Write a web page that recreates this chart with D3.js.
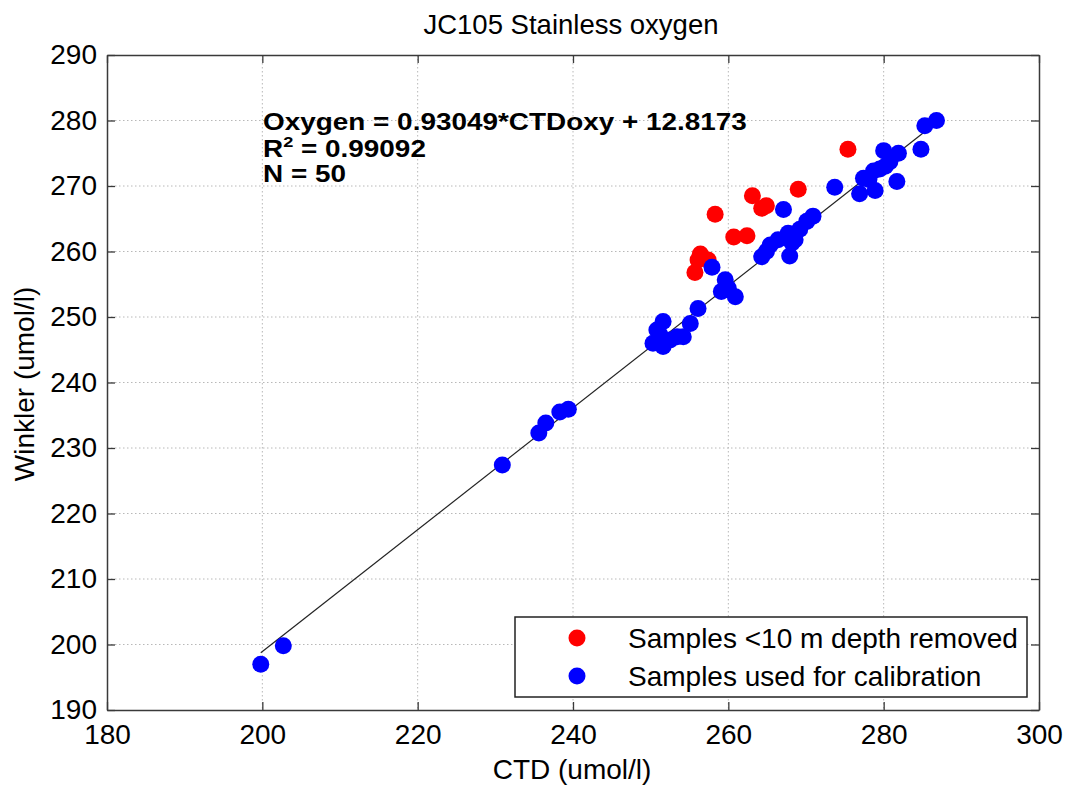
<!DOCTYPE html>
<html><head><meta charset="utf-8">
<script src="https://cdn.jsdelivr.net/npm/d3@7"></script>
<style>
body{margin:0;background:#fff}
text{font-family:"Liberation Sans",Arial,Helvetica,sans-serif;fill:#000}
</style>
</head><body>
<svg id="c" width="1067" height="785"></svg>
<script>
// ---------- data ----------
const titleText = "JC105 Stainless oxygen";
const xLabel = "CTD (umol/l)";
const yLabel = "Winkler (umol/l)";
const xTicks = [180, 200, 220, 240, 260, 280, 300];
const yTicks = [190, 200, 210, 220, 230, 240, 250, 260, 270, 280, 290];

const blueX = [199.8, 202.7, 230.9, 235.6, 236.5, 238.3, 239.4,
  250.8, 250.3, 251.6, 251.6, 253.4, 252.5, 255.1, 256.1, 251.2, 254.2,
  257.9, 259.1, 259.6, 260.9, 260.0,
  264.9, 265.4, 266.4, 267.7, 268.2, 267.9, 269.2, 270.1, 267.1, 273.7, 270.9, 268.6, 264.3,
  276.9, 278.9, 277.4, 278.7, 280.2, 280.8, 280.0, 281.9, 281.7, 284.8, 285.3, 286.8, 278.1, 279.5];
const blueY = [197.0, 199.8, 227.4, 232.3, 233.8, 235.5, 235.9,
  248.0, 246.0, 249.3, 245.5, 247.0, 246.5, 249.0, 251.3, 247.3, 247.0,
  257.6, 253.9, 255.7, 253.1, 254.4,
  260.0, 261.0, 261.8, 262.8, 261.3, 259.3, 263.4, 264.6, 266.4, 269.8, 265.4, 261.8, 259.2,
  268.8, 269.3, 271.2, 272.3, 273.0, 273.7, 275.4, 275.0, 270.7, 275.6, 279.2, 280.0, 271.0, 272.6];

const redX = [275.4, 269.0, 263.1, 264.3, 264.9, 258.3, 260.7, 262.4, 256.4, 257.4, 255.7, 256.1];
const redY = [275.6, 269.5, 268.5, 266.6, 267.0, 265.7, 262.2, 262.4, 259.6, 258.7, 256.8, 258.7];

const fitSlope = 0.93049, fitIntercept = 12.8173;
const eqLines = ["Oxygen = 0.93049*CTDoxy + 12.8173", "= 0.99092", "N = 50"];
const legendLabels = ["Samples <10 m depth removed", "Samples used for calibration"];
const colors = {red: "#ff0000", blue: "#0000ff"};

// ---------- layout ----------
const svg = d3.select("#c");
const L = 107, R = 1039, T = 55, B = 710;
const x = d3.scaleLinear().domain([180, 300]).range([L, R]);
const y = d3.scaleLinear().domain([190, 290]).range([B, T]);
const axisColor = "#3a3a3a";

// grid
const grid = svg.append("g");
grid.selectAll("line.gx").data(xTicks.slice(1, -1)).join("line")
  .attr("x1", d => x(d)).attr("x2", d => x(d)).attr("y1", T).attr("y2", B)
  .attr("stroke", "#b8b8b8").attr("stroke-width", 1).attr("stroke-dasharray", "1.5,2.5");
grid.selectAll("line.gy").data(yTicks.slice(1, -1)).join("line")
  .attr("y1", d => y(d)).attr("y2", d => y(d)).attr("x1", L).attr("x2", R)
  .attr("stroke", "#b8b8b8").attr("stroke-width", 1).attr("stroke-dasharray", "1.5,2.5");

// axes (inward ticks on all sides)
const tl = 8;
const fs = 28;
const gB = svg.append("g").attr("transform", `translate(0,${B})`)
  .call(d3.axisBottom(x).tickValues(xTicks).tickSizeInner(-tl).tickSizeOuter(0).tickPadding(14));
const gT = svg.append("g").attr("transform", `translate(0,${T})`)
  .call(d3.axisTop(x).tickValues(xTicks).tickSizeInner(-tl).tickSizeOuter(0).tickFormat(""));
const gL = svg.append("g").attr("transform", `translate(${L},0)`)
  .call(d3.axisLeft(y).tickValues(yTicks).tickSizeInner(-tl).tickSizeOuter(0).tickPadding(10));
const gR = svg.append("g").attr("transform", `translate(${R},0)`)
  .call(d3.axisRight(y).tickValues(yTicks).tickSizeInner(-tl).tickSizeOuter(0).tickFormat(""));
[gB, gT, gL, gR].forEach(g => {
  g.select(".domain").attr("stroke", axisColor).attr("stroke-width", 1.5);
  g.selectAll(".tick line").attr("stroke", axisColor).attr("stroke-width", 1.3);
  g.selectAll(".tick text").attr("font-size", fs).attr("fill", "#000")
    .attr("font-family", '"Liberation Sans",Arial,sans-serif');
});
gB.selectAll(".tick text").attr("dy", "0.71em");

// fit line
const xr = d3.extent(blueX);
svg.append("line")
  .attr("x1", x(xr[0])).attr("y1", y(fitSlope * xr[0] + fitIntercept))
  .attr("x2", x(xr[1])).attr("y2", y(fitSlope * xr[1] + fitIntercept))
  .attr("stroke", "#222").attr("stroke-width", 1.2);

// points
const rad = 8.5;
svg.append("g").selectAll("circle").data(redX.map((v, i) => [v, redY[i]])).join("circle")
  .attr("cx", d => x(d[0])).attr("cy", d => y(d[1])).attr("r", rad).attr("fill", colors.red);
svg.append("g").selectAll("circle").data(blueX.map((v, i) => [v, blueY[i]])).join("circle")
  .attr("cx", d => x(d[0])).attr("cy", d => y(d[1])).attr("r", rad).attr("fill", colors.blue);

// title & labels
svg.append("text").attr("x", 571).attr("y", 34).attr("text-anchor", "middle")
  .attr("font-size", 27.5).text(titleText);
svg.append("text").attr("x", 572).attr("y", 779).attr("text-anchor", "middle")
  .attr("font-size", 28).text(xLabel);
svg.append("text").attr("transform", "translate(34,384) rotate(-90)").attr("text-anchor", "middle")
  .attr("font-size", 28).text(yLabel);

// equation
const eq = svg.append("g").attr("font-weight", "bold").attr("font-size", 23);
const t1 = eq.append("text").attr("x", 0).attr("y", 130).text(eqLines[0]);
const t2 = eq.append("text").attr("x", 0).attr("y", 157);
t2.append("tspan").text("R");
t2.append("tspan").attr("font-size", 15).attr("dy", -10).text("2");
t2.append("tspan").attr("dy", 10).text(" " + eqLines[1]);
eq.append("text").attr("x", 0).attr("y", 182).text(eqLines[2]);
const w1 = t1.node().getComputedTextLength();
eq.attr("transform", `translate(263,0) scale(${484 / w1},1)`);

// legend
const lg = svg.append("g");
lg.append("rect").attr("x", 515).attr("y", 617).attr("width", 512).attr("height", 80)
  .attr("fill", "#fff").attr("stroke", "#222").attr("stroke-width", 1.5);
[[colors.red, legendLabels[0], 638], [colors.blue, legendLabels[1], 676]].forEach(([c, t, cy]) => {
  lg.append("circle").attr("cx", 577).attr("cy", cy).attr("r", rad).attr("fill", c);
  lg.append("text").attr("x", 628).attr("y", cy + 10).attr("font-size", 28).text(t);
});
</script>
</body></html>
